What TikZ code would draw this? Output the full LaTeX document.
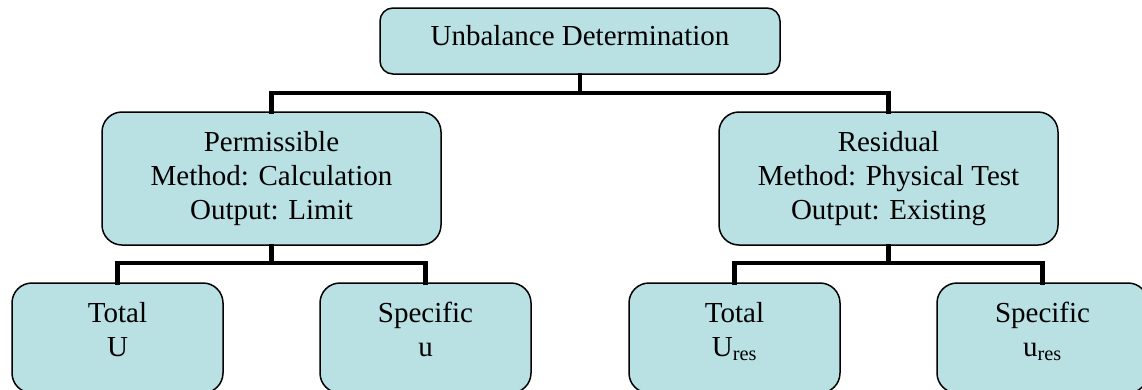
\documentclass[tikz,border=0pt]{standalone}
\usepackage{fontspec}
\setmainfont{Liberation Serif}
\definecolor{boxfill}{RGB}{185,224,227}
\begin{document}
\begin{tikzpicture}[x=1pt,y=-1pt,
  box/.style={draw=black,line width=1.5pt,fill=boxfill,rounded corners=16pt,
    inner sep=0pt,align=center,font=\fontsize{29}{34}\selectfont},
  topbox/.style={box,rounded corners=13pt,minimum width=400pt,minimum height=66pt,
    text height=20pt,text depth=12pt},
  midbox/.style={box,rounded corners=20pt,minimum width=339pt,minimum height=133pt},
  leafbox/.style={box,rounded corners=20pt,minimum width=211pt,minimum height=110pt},
  conn/.style={draw=black,line width=4.5pt,line cap=rect}
]
\useasboundingbox (0,0) rectangle (1142,389);
\clip (0,0) rectangle (1142,389);
\fill[white] (0,0) rectangle (1142,389);

\node[topbox] (top) at (580,41) {Unbalance Determination};
\node[midbox] (perm) at (271.5,178.5) {Permissible\\Method: Calculation\\Output: Limit};
\node[midbox] (resid) at (888.5,178.5) {Residual\\Method: Physical Test\\Output: Existing};
\node[leafbox] (l1) at (117.5,338) {Total\\U\rule[-17pt]{0pt}{17pt}};
\node[leafbox] (l2) at (425.5,338) {Specific\\u\rule[-17pt]{0pt}{17pt}};
\node[leafbox] (l3) at (734.5,338) {Total\\U\textsubscript{res}\rule[-17pt]{0pt}{17pt}};
\node[leafbox] (l4) at (1042.5,338) {Specific\\u\textsubscript{res}\rule[-17pt]{0pt}{17pt}};

\coordinate (j0) at (580,93);
\coordinate (j1) at (271.5,263);
\coordinate (j2) at (888.5,263);

\draw[conn] (top.south) -- (j0);
\draw[conn] (perm.north) |- (j0) -| (resid.north);
\draw[conn] (perm.south) -- (j1);
\draw[conn] (l1.north) |- (j1) -| (l2.north);
\draw[conn] (resid.south) -- (j2);
\draw[conn] (l3.north) |- (j2) -| (l4.north);
\end{tikzpicture}
\end{document}
